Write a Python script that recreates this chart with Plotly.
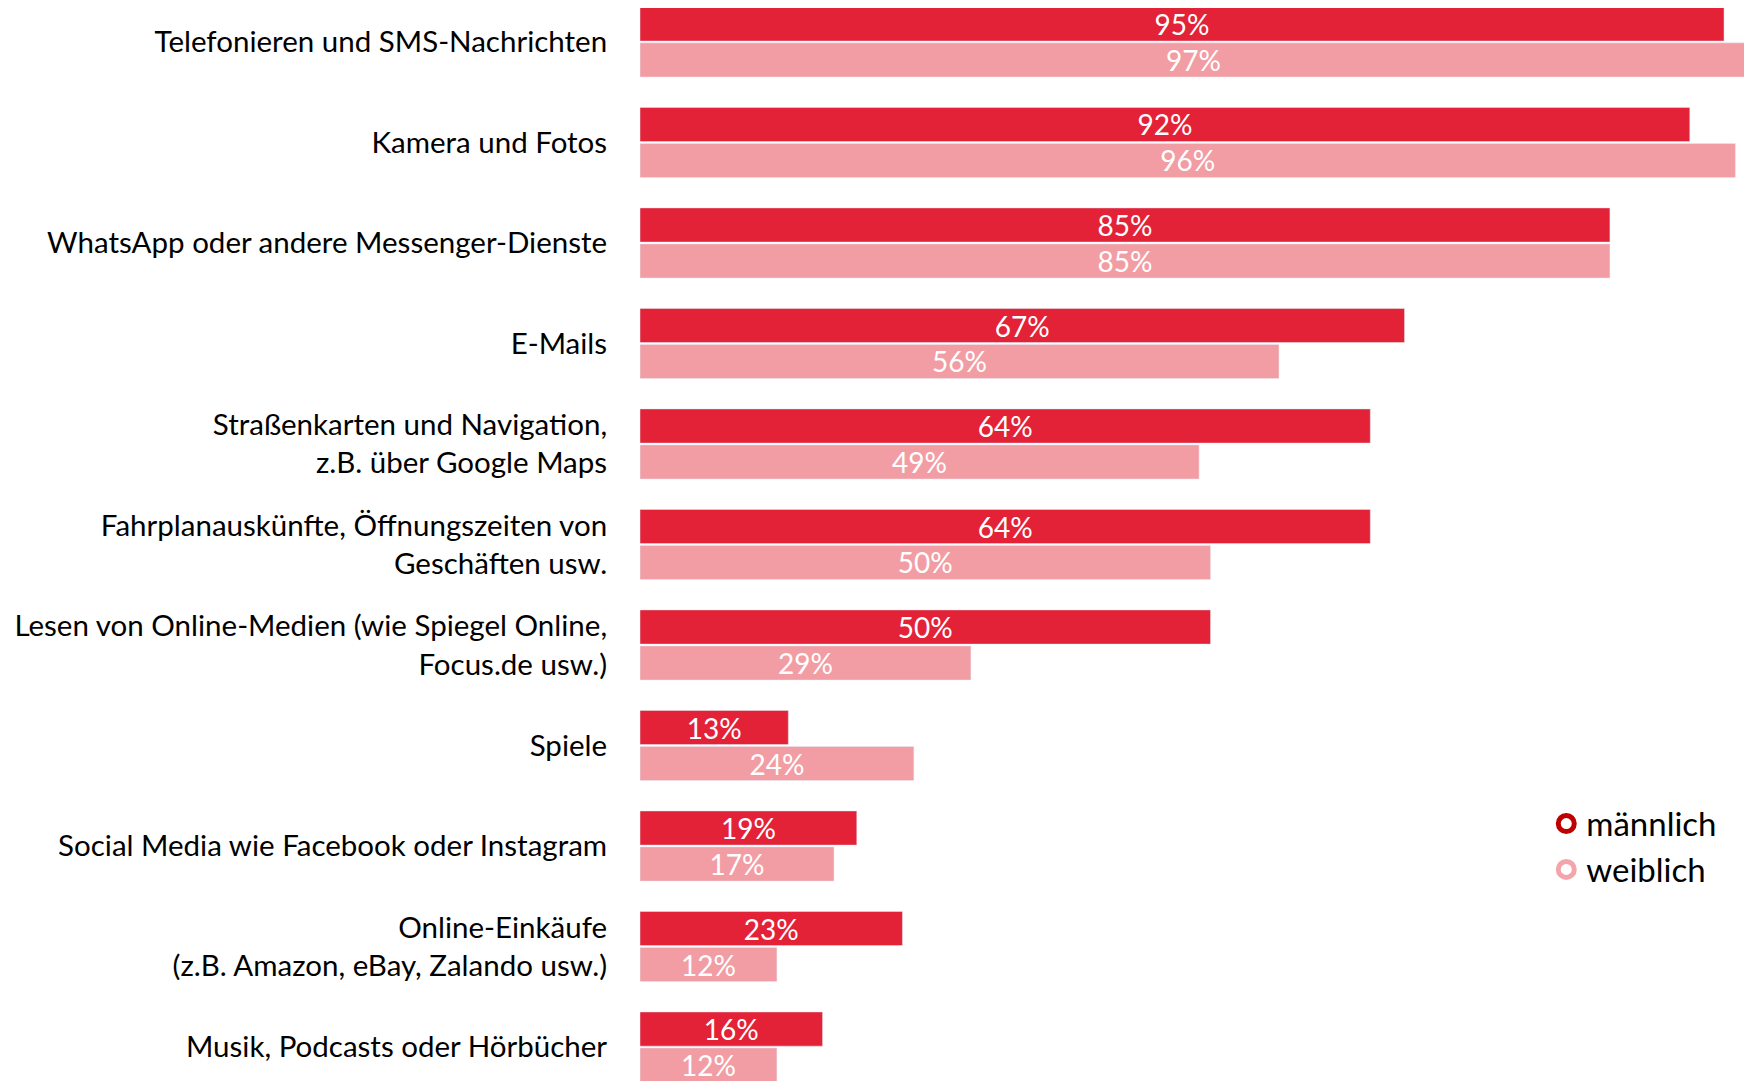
import plotly.graph_objects as go

categories = [
    "Telefonieren und SMS-Nachrichten",
    "Kamera und Fotos",
    "WhatsApp oder andere Messenger-Dienste",
    "E-Mails",
    "Straßenkarten und Navigation,<br>z.B. über Google Maps",
    "Fahrplanauskünfte, Öffnungszeiten von<br>Geschäften usw.",
    "Lesen von Online-Medien (wie Spiegel Online,<br>Focus.de usw.)",
    "Spiele",
    "Social Media wie Facebook oder Instagram",
    "Online-Einkäufe<br>(z.B. Amazon, eBay, Zalando usw.)",
    "Musik, Podcasts oder Hörbücher",
]
maennlich = [95, 92, 85, 67, 64, 64, 50, 13, 19, 23, 16]
weiblich = [97, 96, 85, 56, 49, 50, 29, 24, 17, 12, 12]

RED = "#E32237"
PINK = "#F29DA4"
FONT = "Lato"

fig = go.Figure()

fig.add_trace(go.Bar(
    y=categories, x=maennlich, orientation="h", name="männlich",
    marker=dict(color=RED), showlegend=False,
    text=[f"{v}%" for v in maennlich], textposition="inside",
    insidetextanchor="middle", constraintext="none",
    textfont=dict(color="white", size=28, family=FONT),
))
fig.add_trace(go.Bar(
    y=categories, x=weiblich, orientation="h", name="weiblich",
    marker=dict(color=PINK), showlegend=False,
    text=[f"{v}%" for v in weiblich], textposition="inside",
    insidetextanchor="middle", constraintext="none",
    textfont=dict(color="white", size=28, family=FONT),
))

# legend entries as rings
fig.add_trace(go.Scatter(
    x=[None], y=[None], mode="markers", name="männlich",
    marker=dict(symbol="circle-open", size=16, color="#C00000", line=dict(width=5)),
))
fig.add_trace(go.Scatter(
    x=[None], y=[None], mode="markers", name="weiblich",
    marker=dict(symbol="circle-open", size=16, color="#F4A5AC", line=dict(width=5)),
))

# page body has an 8px margin, so the figure is drawn 8px smaller
fig.update_layout(
    width=1744, height=1073,
    margin=dict(l=632, r=0, t=0, b=0),
    plot_bgcolor="white", paper_bgcolor="white",
    barmode="group", bargap=0.284, bargroupgap=0.05,
    font=dict(family=FONT, size=29.5, color="black"),
    xaxis=dict(range=[0, 97.45], visible=False, fixedrange=True),
    yaxis=dict(
        type="category", categoryorder="array", categoryarray=categories,
        range=[10.338, -0.338], showgrid=False, zeroline=False, showline=False,
        ticks="outside", ticklen=26, tickcolor="rgba(0,0,0,0)",
        tickfont=dict(size=29.5, family=FONT, color="black"), automargin=False,
    ),
    legend=dict(
        x=0.815, y=0.266, xanchor="left", yanchor="top",
        font=dict(size=33, family=FONT, color="black"),
        bgcolor="rgba(0,0,0,0)", tracegroupgap=0,
    ),
)

fig.write_html("out.html")
